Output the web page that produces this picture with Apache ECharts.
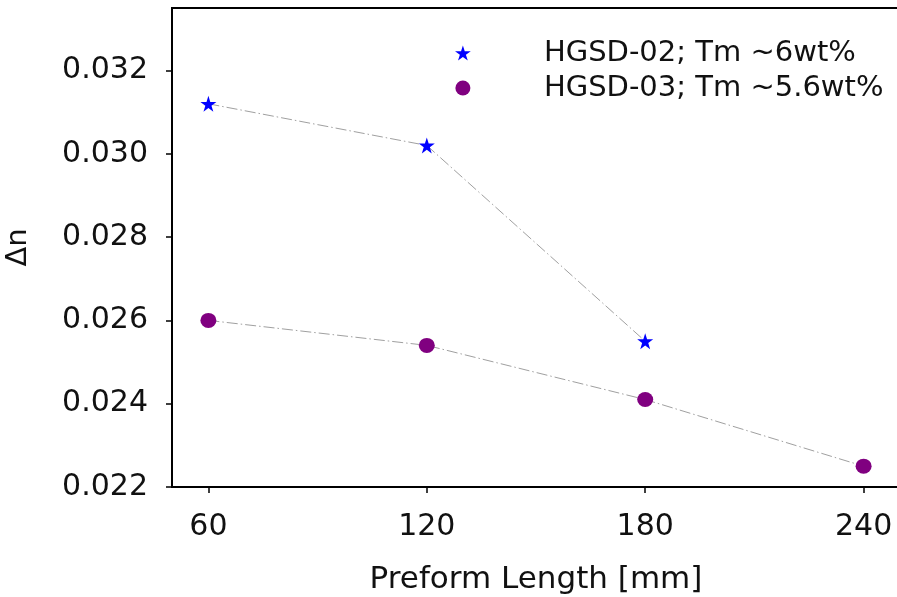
<!DOCTYPE html>
<html>
<head>
<meta charset="utf-8">
<script src="https://cdn.jsdelivr.net/npm/echarts@6/dist/echarts.min.js"></script>
<style>
  html, body { margin: 0; padding: 0; background: #fff; }
  #chart { width: 897px; height: 597px; }
</style>
</head>
<body>
<div id="chart"></div>
<script>
// Refractive index contrast vs preform length for two fibre draws
const lengthsA = [60, 120, 180];
const deltaA   = [0.0312, 0.0302, 0.0255];
const lengthsB = [60, 120, 180, 240];
const deltaB   = [0.0260, 0.0254, 0.0241, 0.0225];

const nameA = 'HGSD-02; Tm ~6wt%';
const nameB = 'HGSD-03; Tm ~5.6wt%';

const xTicks = [60, 120, 180, 240];
const yTicks = [0.022, 0.024, 0.026, 0.028, 0.030, 0.032];

const pairs = (xs, ys) => xs.map((x, i) => [x, ys[i]]);
const starPath = 'path://M50,0 L61.2,34.5 L97.6,34.5 L68.2,55.9 L79.4,90.5 L50,69.1 L20.6,90.5 L31.8,55.9 L2.4,34.5 L38.8,34.5 Z';

const FONT = 'DejaVu Sans';
const dashLine = { color: '#a0a0a0', width: 1, type: [11, 3, 1.5, 3] };

const chart = echarts.init(document.getElementById('chart'));
chart.setOption({
  animation: false,
  backgroundColor: '#fff',
  grid: {
    left: 172, right: -3, top: 8, bottom: 110,
    outerBoundsMode: 'none', containLabel: false,
    show: true, borderColor: '#000', borderWidth: 2, backgroundColor: 'transparent'
  },
  legend: {
    orient: 'vertical',
    left: 450, top: 33, padding: 5,
    itemWidth: 152, itemHeight: 15, itemGap: 5,
    textStyle: { fontFamily: FONT, fontSize: 29, color: '#111', lineHeight: 30 },
    data: [
      { name: nameA, icon: starPath, itemStyle: { color: '#0000ff', opacity: 1 } },
      { name: nameB, icon: 'circle', itemStyle: { color: '#800080', opacity: 1 } }
    ]
  },
  xAxis: {
    type: 'value', min: 50, max: 250,
    name: 'Preform Length [mm]', nameLocation: 'middle', nameGap: 77,
    nameTextStyle: { fontFamily: FONT, fontSize: 31, color: '#111' },
    axisLine: { show: true, lineStyle: { color: '#000', width: 2 } },
    axisTick: { show: true, inside: false, length: 6, lineStyle: { color: '#000', width: 1.5 }, customValues: xTicks },
    axisLabel: { fontFamily: FONT, fontSize: 30, color: '#111', margin: 25, customValues: xTicks },
    splitLine: { show: false }
  },
  yAxis: {
    type: 'value', min: 0.022, max: 0.0335,
    name: 'Δn', nameLocation: 'middle', nameGap: 139, nameRotate: 90,
    nameTextStyle: { fontFamily: FONT, fontSize: 29, color: '#111' },
    axisLine: { show: true, lineStyle: { color: '#000', width: 2 } },
    axisTick: { show: true, inside: false, length: 6, lineStyle: { color: '#000', width: 1.5 }, customValues: yTicks },
    axisLabel: { fontFamily: FONT, fontSize: 30, color: '#111', margin: 24, customValues: yTicks,
                 formatter: v => v.toFixed(3) },
    splitLine: { show: false }
  },
  series: [
    { type: 'line', data: pairs(lengthsA, deltaA), symbol: 'none', lineStyle: dashLine, silent: true, z: 1 },
    { type: 'line', data: pairs(lengthsB, deltaB), symbol: 'none', lineStyle: dashLine, silent: true, z: 1 },
    { type: 'scatter', name: nameA, data: pairs(lengthsA, deltaA), symbol: starPath, symbolSize: 16,
      itemStyle: { color: '#0000ff', opacity: 1 }, z: 3 },
    { type: 'scatter', name: nameB, data: pairs(lengthsB, deltaB), symbol: 'circle', symbolSize: [16, 15],
      itemStyle: { color: '#800080', opacity: 1 }, z: 3 }
  ]
});
</script>
</body>
</html>
